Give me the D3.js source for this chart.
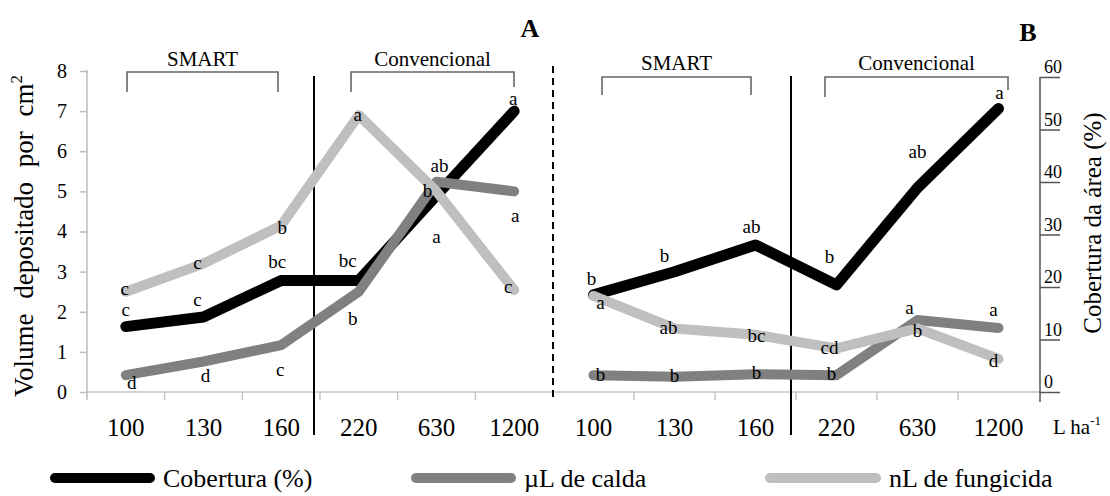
<!DOCTYPE html>
<html>
<script src="https://cdn.jsdelivr.net/npm/d3@7"></script>
<style>
  body, html { margin: 0; padding: 0; background: #fff; }
  svg { display: block; }
  svg text { font-family: "Liberation Serif", "DejaVu Serif", serif !important; fill: #000; }
</style>
<body>
<svg width="1110" height="496"></svg>
<script>

  // ---- data ----
  var categories = ['100', '130', '160', '220', '630', '1200'];

  // panel A (left axis, volume per cm2)
  var coberturaA = [1.63, 1.87, 2.78, 2.78, 4.9, 7.0];
  var caldaA     = [0.42, 0.76, 1.17, 2.5, 5.24, 5.0];
  var fungicidaA = [2.5, 3.2, 4.15, 6.9, 5.0, 2.54];

  // panel B (right axis, coverage %)
  var coberturaB = [18.5, 22.9, 28.0, 20.4, 38.9, 54.0];
  var caldaB     = [3.2, 2.9, 3.4, 3.2, 13.7, 12.2];
  var fungicidaB = [18.3, 12.1, 10.9, 8.3, 12.1, 6.3];

  // significance letters
  var lettersCoberturaA = ['c', 'c', 'bc', 'bc', 'a', 'a'];
  var lettersCaldaA     = ['d', 'd', 'c', 'b', 'ab', 'a'];
  var lettersFungicidaA = ['c', 'c', 'b', 'a', 'b', 'c'];
  var lettersCoberturaB = ['b', 'b', 'ab', 'b', 'ab', 'a'];
  var lettersCaldaB     = ['b', 'b', 'b', 'b', 'a', 'a'];
  var lettersFungicidaB = ['a', 'ab', 'bc', 'cd', 'b', 'd'];

  var leftTicks = [0, 1, 2, 3, 4, 5, 6, 7, 8];
  var rightTicks = [0, 10, 20, 30, 40, 50, 60];

  // ---- layout ----
  var svg = d3.select('svg').attr('font-family', '"Liberation Serif", serif');
  var axisY = 392;

  var xA = d3.scaleBand().domain(categories).range([87, 553]);
  var xB = d3.scaleBand().domain(categories).range([553, 1039]);
  var yLeft = d3.scaleLinear().domain([0, 8]).range([axisY, 71]);
  var yRight = d3.scaleLinear().domain([0, 60]).range([axisY, 77]);

  var colors = { cob: '#000000', cal: '#808080', fun: '#bfbfbf' };

  // x axis base line
  svg.append('line')
    .attr('x1', 87).attr('x2', 1040).attr('y1', axisY).attr('y2', axisY)
    .attr('stroke', '#c4c4c4').attr('stroke-width', 1.5);

  // band boundary ticks + category labels
  [xA, xB].forEach(function (x) {
    var bounds = categories.slice(1).map(function (c) { return x(c); });
    svg.selectAll(null).data(bounds).enter().append('line')
      .attr('x1', function (d) { return d; }).attr('x2', function (d) { return d; })
      .attr('y1', axisY).attr('y2', axisY + 8)
      .attr('stroke', '#c4c4c4').attr('stroke-width', 1.5);

    var ax = svg.append('g')
      .attr('transform', 'translate(0,' + axisY + ')')
      .call(d3.axisBottom(x).tickSize(0).tickPadding(26));
    ax.attr('font-family', null).attr('font-size', null);
    ax.select('.domain').remove();
    ax.selectAll('text').style('font-size', '25px').attr('fill', '#000');
  });

  // left axis
  var gl = svg.append('g')
    .attr('transform', 'translate(87,0)')
    .call(d3.axisLeft(yLeft).tickValues(leftTicks).tickSize(7).tickPadding(13));
  gl.attr('font-family', null).attr('font-size', null);
  gl.select('.domain').attr('stroke', '#bdbdbd').attr('stroke-width', 1.5).attr('d', 'M0,70V400');
  gl.selectAll('.tick line').attr('stroke', '#bdbdbd').attr('stroke-width', 1.5);
  gl.selectAll('text').style('font-size', '20px').attr('fill', '#000');

  // right axis
  var gr = svg.append('g')
    .attr('transform', 'translate(1040,0)')
    .call(d3.axisRight(yRight).tickValues(rightTicks).tickSize(20));
  gr.attr('font-family', null).attr('font-size', null);
  gr.select('.domain').attr('stroke', '#555').attr('stroke-width', 1.5).attr('d', 'M0,77V402');
  gr.selectAll('.tick line').attr('stroke', '#555').attr('stroke-width', 1.5);
  gr.selectAll('text').style('font-size', '18px').attr('fill', '#000')
    .attr('x', 4).attr('dy', '-0.25em').attr('text-anchor', 'start');

  // axis titles
  var lt = svg.append('text')
    .attr('transform', 'translate(33,236) rotate(-90)')
    .attr('text-anchor', 'middle')
    .style('font-size', '27px').style('word-spacing', '8px');
  lt.append('tspan').text('Volume depositado por cm');
  lt.append('tspan').attr('dy', -11).style('font-size', '17px').text('2');

  svg.append('text')
    .attr('transform', 'translate(1101,223) rotate(-90)')
    .attr('text-anchor', 'middle')
    .style('font-size', '25px')
    .text('Cobertura da área (%)');

  var lh = svg.append('text').attr('x', 1053).attr('y', 434).style('font-size', '21px');
  lh.append('tspan').text('L ha');
  lh.append('tspan').attr('dy', -9).style('font-size', '13px').text('-1');

  // panel letters
  svg.append('text').attr('x', 530).attr('y', 37).attr('text-anchor', 'middle')
    .style('font-size', '26px').style('font-weight', 'bold').text('A');
  svg.append('text').attr('x', 1028).attr('y', 41).attr('text-anchor', 'middle')
    .style('font-size', '26px').style('font-weight', 'bold').text('B');

  // group dividers
  svg.append('line').attr('x1', 314).attr('x2', 314).attr('y1', 76).attr('y2', 435)
    .attr('stroke', '#000').attr('stroke-width', 2);
  svg.append('line').attr('x1', 791).attr('x2', 791).attr('y1', 76).attr('y2', 435)
    .attr('stroke', '#000').attr('stroke-width', 2);
  svg.append('line').attr('x1', 553).attr('x2', 553).attr('y1', 66).attr('y2', 398)
    .attr('stroke', '#000').attr('stroke-width', 2).attr('stroke-dasharray', '7,5');

  // brackets
  var brackets = [
    { label: 'SMART', x1: 127, x2: 278, top: 72, l: 92, r: 92, ty: 66 },
    { label: 'Convencional', x1: 351, x2: 514, top: 72, l: 92, r: 87, ty: 66 },
    { label: 'SMART', x1: 602, x2: 751, top: 77, l: 95, r: 95, ty: 70 },
    { label: 'Convencional', x1: 825, x2: 1008, top: 77, l: 97, r: 90, ty: 70 }
  ];
  brackets.forEach(function (b) {
    svg.append('path')
      .attr('d', 'M' + b.x1 + ',' + b.l + 'V' + b.top + 'H' + b.x2 + 'V' + b.r)
      .attr('fill', 'none').attr('stroke', '#666').attr('stroke-width', 1.6);
    svg.append('text').attr('x', (b.x1 + b.x2) / 2).attr('y', b.ty)
      .attr('text-anchor', 'middle').style('font-size', '21px').text(b.label);
  });

  // series
  var line = d3.line().curve(d3.curveLinear);

  function drawSeries(values, x, y, color, width) {
    var pts = values.map(function (v, i) {
      return [x(categories[i]) + x.bandwidth() / 2, y(v)];
    });
    svg.append('path')
      .attr('d', line(pts))
      .attr('fill', 'none')
      .attr('stroke', color)
      .attr('stroke-width', width)
      .attr('stroke-linecap', 'round')
      .attr('stroke-linejoin', 'round');
    return pts;
  }

  function drawLetters(pts, letters, offsets) {
    svg.selectAll(null).data(letters).enter().append('text')
      .attr('x', function (d, i) { return pts[i][0] + offsets[i][0]; })
      .attr('y', function (d, i) { return pts[i][1] + offsets[i][1]; })
      .attr('dy', '0.3em')
      .attr('text-anchor', 'middle')
      .style('font-size', '19px')
      .text(function (d) { return d; });
  }

  var pCobA = drawSeries(coberturaA, xA, yLeft, colors.cob, 11);
  var pCalA = drawSeries(caldaA, xA, yLeft, colors.cal, 10);
  var pFunA = drawSeries(fungicidaA, xA, yLeft, colors.fun, 10);
  var pCobB = drawSeries(coberturaB, xB, yRight, colors.cob, 11);
  var pCalB = drawSeries(caldaB, xB, yRight, colors.cal, 10);
  var pFunB = drawSeries(fungicidaB, xB, yRight, colors.fun, 10);

  // label offsets [dx, dy] relative to each point
  drawLetters(pCobA, lettersCoberturaA, [[0, -16], [-6, -17], [-4, -18], [-11, -19], [0, 42], [-1, -12]]);
  drawLetters(pCalA, lettersCaldaA, [[6, 8], [2, 15], [-1, 25], [-6, 28], [3, -15], [1, 25]]);
  drawLetters(pFunA, lettersFungicidaA, [[-1, -2], [-6, 0], [1, 3], [-1, 0], [-9, 0], [-6, -3]]);
  drawLetters(pCobB, lettersCoberturaB, [[-2, -16], [-10, -15], [-4, -18], [-7, -28], [0, -35], [1, -15]]);
  drawLetters(pCalB, lettersCaldaB, [[7, 0], [0, 0], [1, -1], [-5, -1], [-8, -12], [-5, -18]]);
  drawLetters(pFunB, lettersFungicidaB, [[7, 7], [-6, 0], [1, 2], [-7, 0], [0, 3], [-5, 2]]);

  // legend
  var legend = [
    { name: 'Cobertura (%)', color: colors.cob, x1: 55, x2: 150 },
    { name: 'µL de calda', color: colors.cal, x1: 416, x2: 511 },
    { name: 'nL de fungicida', color: colors.fun, x1: 770, x2: 876 }
  ];
  legend.forEach(function (d) {
    svg.append('line')
      .attr('x1', d.x1).attr('x2', d.x2).attr('y1', 478).attr('y2', 478)
      .attr('stroke', d.color).attr('stroke-width', 10).attr('stroke-linecap', 'round');
    svg.append('text').attr('x', d.x2 + 13).attr('y', 487)
      .style('font-size', '26px').text(d.name);
  });

</script>
</body>
</html>
